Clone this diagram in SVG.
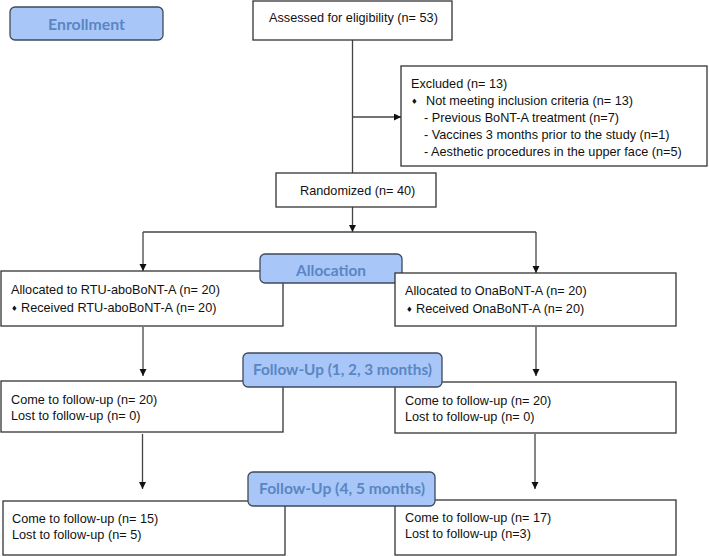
<svg xmlns="http://www.w3.org/2000/svg" width="709" height="556" viewBox="0 0 709 556">
<defs>
<marker id="arr" markerUnits="userSpaceOnUse" markerWidth="8" markerHeight="8" refX="7" refY="3.5" orient="auto">
<path d="M0,0 L7,3.5 L0,7 z" fill="#111"/>
</marker>
<style>
.box{fill:#fff;stroke:#333;stroke-width:1.3}
.lbl{fill:#a8c6f7;stroke:#3f4a5c;stroke-width:1.3}
.lt{font-family:Lato,"Open Sans",sans-serif;font-weight:bold;font-size:15.5px;fill:#5a86c4;text-anchor:middle}
.t{font-family:"Liberation Sans",Arial,sans-serif;font-size:12.7px;fill:#111}
.b{font-family:"DejaVu Sans",sans-serif;font-size:7.5px;fill:#111}
.c{fill:none;stroke:#444;stroke-width:1.3}
</style>
</defs>
<rect width="709" height="556" fill="#fff"/>
<g id="connectors">
<line class="c" x1="352.5" y1="40" x2="352.5" y2="173"/>
<line class="c" x1="352.5" y1="117" x2="401" y2="117" marker-end="url(#arr)"/>
<line class="c" x1="352.5" y1="207" x2="352.5" y2="232" marker-end="url(#arr)"/>
<line class="c" x1="143" y1="232" x2="536" y2="232"/>
<line class="c" x1="143" y1="232" x2="143" y2="271" marker-end="url(#arr)"/>
<line class="c" x1="536" y1="232" x2="536" y2="273" marker-end="url(#arr)"/>
<line class="c" x1="143" y1="327" x2="143" y2="376" marker-end="url(#arr)"/>
<line class="c" x1="536" y1="327" x2="536" y2="376" marker-end="url(#arr)"/>
<line class="c" x1="142.5" y1="434" x2="142.5" y2="489" marker-end="url(#arr)"/>
<line class="c" x1="535" y1="434" x2="535" y2="489" marker-end="url(#arr)"/>
</g>
<g id="enrollment">
<rect class="lbl" x="10" y="7" width="153" height="33" rx="5"/>
<text class="lt" x="86.5" y="29.5" textLength="77" lengthAdjust="spacingAndGlyphs">Enrollment</text>
</g>
<g id="assessed">
<rect class="box" x="253" y="1" width="199" height="39"/>
<text class="t" x="269" y="22">Assessed for eligibility (n= 53)</text>
</g>
<g id="excluded">
<rect class="box" x="401" y="66" width="306" height="100"/>
<text class="t" x="411" y="88">Excluded (n= 13)</text>
<text class="b" x="411" y="104">♦</text>
<text class="t" x="426" y="105">Not meeting inclusion criteria (n= 13)</text>
<text class="t" x="424" y="122">- Previous BoNT-A treatment (n=7)</text>
<text class="t" x="424" y="139">- Vaccines 3 months prior to the study (n=1)</text>
<text class="t" x="424" y="156">- Aesthetic procedures in the upper face (n=5)</text>
</g>
<g id="randomized">
<rect class="box" x="276" y="173" width="160" height="34"/>
<text class="t" x="300" y="195">Randomized (n= 40)</text>
</g>
<g id="alloc-left">
<rect class="box" x="1" y="271" width="282" height="55"/>
<text class="t" x="11" y="293.5">Allocated to RTU-aboBoNT-A (n= 20)</text>
<text class="b" x="11" y="310.5">♦</text>
<text class="t" x="21" y="311.5">Received RTU-aboBoNT-A (n= 20)</text>
</g>
<g id="allocation">
<rect class="lbl" x="260" y="254" width="142" height="29" rx="5"/>
<text class="lt" x="331" y="276" textLength="70" lengthAdjust="spacingAndGlyphs">Allocation</text>
</g>
<g id="alloc-right">
<rect class="box" x="395" y="273" width="281" height="53"/>
<text class="t" x="405" y="294.5">Allocated to OnaBoNT-A (n= 20)</text>
<text class="b" x="406" y="311.5">♦</text>
<text class="t" x="416" y="312.5">Received OnaBoNT-A (n= 20)</text>
</g>
<g id="fu1-left">
<rect class="box" x="1" y="381" width="282" height="51"/>
<text class="t" x="11" y="403.5">Come to follow-up (n= 20)</text>
<text class="t" x="11" y="419.5">Lost to follow-up (n= 0)</text>
</g>
<g id="fu1-right">
<rect class="box" x="395" y="382" width="281" height="51"/>
<text class="t" x="405" y="404.5">Come to follow-up (n= 20)</text>
<text class="t" x="405" y="420.5">Lost to follow-up (n= 0)</text>
</g>
<g id="followup1">
<rect class="lbl" x="243" y="353" width="199" height="34" rx="5"/>
<text class="lt" x="342.5" y="375" textLength="179" lengthAdjust="spacingAndGlyphs">Follow-Up (1, 2, 3 months)</text>
</g>
<g id="fu2-left">
<rect class="box" x="3" y="501" width="282" height="54"/>
<text class="t" x="12" y="522.5">Come to follow-up (n= 15)</text>
<text class="t" x="12" y="538.5">Lost to follow-up (n= 5)</text>
</g>
<g id="fu2-right">
<rect class="box" x="395" y="500" width="281" height="55"/>
<text class="t" x="405" y="521.5">Come to follow-up (n= 17)</text>
<text class="t" x="405" y="537.5">Lost to follow-up (n=3)</text>
</g>
<g id="followup2">
<rect class="lbl" x="248" y="472" width="187" height="34" rx="5"/>
<text class="lt" x="342" y="494" textLength="166" lengthAdjust="spacingAndGlyphs">Follow-Up (4, 5 months)</text>
</g>
</svg>
